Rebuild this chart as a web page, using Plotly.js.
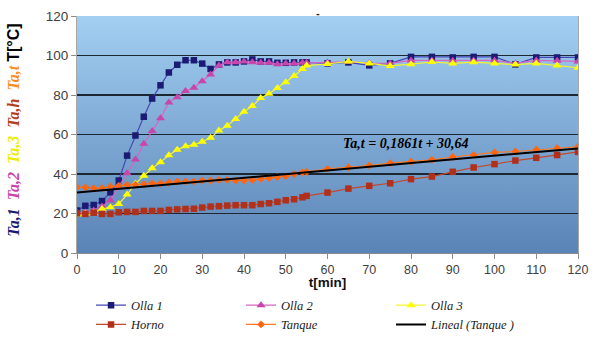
<!DOCTYPE html>
<html>
<head>
<meta charset="utf-8">
<script src="https://cdn.plot.ly/plotly-3.0.1.min.js"></script>
<style>
  html, body { margin: 0; padding: 0; background: #ffffff; }
  #chart { width: 605px; height: 350px; }
</style>
</head>
<body>
<div id="chart"></div>
<script>
// Sampling times (min)
const tiempo = [0,2,4,6,8,10,12,14,16,18,20,22,24,26,28,30,32,34,36,38,40,42,44,46,48,50,52,54,55,60,65,70,75,80,85,90,95,100,105,110,115,120];

// Temperatures (°C)
const olla1 = [21.5,23.9,24.3,26.3,30.7,36.7,49.3,59.5,69.0,78.2,84.9,91.4,95.3,97.6,97.6,95.9,93.2,95.5,96.5,96.5,97.0,98.0,97.0,97.0,96.3,96.3,96.5,96.5,96.5,96.0,96.5,95.0,96.0,99.3,99.3,99.0,99.3,99.3,95.5,99.0,99.0,99.0];
const olla2 = [20.5,20.5,21.5,23.5,26.7,33.6,40.4,47.3,55.3,61.8,68.2,76.2,78.9,82.0,83.7,87.0,90.4,95.0,96.6,96.6,97.0,96.6,96.3,96.3,95.6,95.9,95.9,96.3,96.3,96.5,96.8,96.2,96.0,97.5,97.5,97.3,97.5,97.5,96.0,97.5,97.3,97.0];
const olla3 = [19.5,20.0,20.5,22.3,23.2,24.8,29.6,35.2,39.1,42.9,46.0,49.5,52.3,54.1,54.8,56.3,58.3,62.0,64.4,67.9,71.5,74.4,78.5,80.6,83.5,86.4,89.6,93.2,94.9,95.7,97.0,96.0,94.7,95.6,96.7,96.0,96.6,96.0,95.4,96.0,95.0,93.8];
const horno = [20.1,19.8,20.4,19.8,19.8,20.6,20.8,20.8,21.3,21.3,21.3,21.8,22.1,22.3,22.4,23.0,23.5,23.7,24.0,24.2,24.2,24.2,24.8,25.2,25.9,26.7,27.2,28.2,28.9,30.6,32.6,34.0,35.3,37.4,38.7,41.1,43.3,45.0,46.8,48.2,49.6,51.2];
const tanque = [33.3,33.2,32.8,32.8,33.6,34.0,34.5,34.6,34.8,35.3,35.3,35.7,36.2,36.2,36.2,36.7,36.7,37.0,37.0,36.7,36.7,37.0,37.5,37.9,38.4,38.9,39.9,40.8,41.1,42.6,43.3,44.3,45.5,46.2,47.2,48.6,49.6,50.9,51.4,52.3,53.1,53.8];

// Linear fit of the tank temperature
const pendiente = 0.1861;
const ordenada = 30.64;
const tajuste = [0, 120];

const nombres = ['Olla 1', 'Olla 2', 'Olla 3', 'Horno', 'Tanque', 'Lineal (Tanque )'];
const ticksX = [0,10,20,30,40,50,60,70,80,90,100,110,120];
const ticksY = [0,20,40,60,80,100,120];
const lineasGuia = [20,40,60,80,100];

const serie = (name, y, lineColor, markerColor, symbol, size) => ({
  type: 'scatter', mode: 'lines+markers', name: name,
  x: tiempo, y: y,
  line: { color: lineColor, width: 1.2 },
  marker: { color: markerColor, symbol: symbol, size: size, line: { width: 0 } }
});

const traces = [
  serie(nombres[0], olla1, '#4646b4', '#1b1b74', 'square', 6.5),
  serie(nombres[1], olla2, '#d566c4', '#c845aa', 'triangle-up', 8),
  serie(nombres[2], olla3, '#f4f430', '#ffff00', 'triangle-up', 8),
  serie(nombres[3], horno, '#c0492e', '#b0301c', 'square', 6.5),
  serie(nombres[4], tanque, '#ff7a22', '#ff6410', 'diamond', 6),
  {
    type: 'scatter', mode: 'lines', name: nombres[5],
    x: tajuste, y: tajuste.map(t => pendiente * t + ordenada),
    line: { color: '#000000', width: 2 }
  }
];

// vertical gradient fill for the plotting area
const fondo = '<svg xmlns="http://www.w3.org/2000/svg" width="100" height="100" preserveAspectRatio="none">' +
  '<defs><linearGradient id="g" x1="0" y1="0" x2="0" y2="1">' +
  '<stop offset="0" stop-color="#a3cff2"/><stop offset="1" stop-color="#5a83b6"/>' +
  '</linearGradient></defs><rect width="100" height="100" fill="url(#g)"/></svg>';

const coma = v => String(v).replace('.', ',');
const ecuacion = '<b><i>Ta,t = ' + coma(pendiente) + 't + ' + coma(ordenada) + '</i></b>';

const serif = "'Liberation Serif', 'Times New Roman', serif";

const tituloY =
  '<b><i>' +
  '<span style="color:#1b1b74">Ta,1</span>  ' +
  '<span style="color:#c845aa">Ta,2</span>  ' +
  '<span style="color:#ecec00">Ta,3</span>  ' +
  '<span style="color:#b3401c">Ta,h</span>  ' +
  '<span style="color:#ff8c1e">Ta,t</span> ' +
  '<span style="color:#000000;font-family:\'Liberation Sans\', Arial;font-style:normal">T[°C]</span>' +
  '</i></b>';

const layout = {
  width: 605, height: 350,
  margin: { l: 77, r: 27, t: 16, b: 97 },
  paper_bgcolor: '#ffffff',
  plot_bgcolor: '#7fa9d6',
  font: { family: "'Liberation Sans', Arial, sans-serif", color: '#404040' },
  showlegend: true,
  images: [{
    source: 'data:image/svg+xml;charset=utf-8,' + encodeURIComponent(fondo),
    xref: 'paper', yref: 'paper', x: 0, y: 1, sizex: 1, sizey: 1,
    xanchor: 'left', yanchor: 'top', sizing: 'stretch', layer: 'below'
  }],
  xaxis: {
    range: [0, 120], tickvals: ticksX,
    ticks: 'outside', ticklen: 5, tickcolor: '#8c8c8c',
    showline: true, linecolor: '#8c8c8c', linewidth: 1,
    showgrid: false, zeroline: false,
    tickfont: { size: 12.5, color: '#404040' },
    title: { text: '<b>t[min]</b>', font: { size: 13.5, color: '#111111' }, standoff: 4 }
  },
  yaxis: {
    range: [0, 120], tickvals: ticksY,
    ticks: 'outside', ticklen: 5, tickcolor: '#8c8c8c',
    showline: true, linecolor: '#a8a8a8', linewidth: 1, mirror: true,
    showgrid: false, zeroline: false,
    tickfont: { size: 13.5, color: '#404040' }
  },
  // horizontal guide lines (no line on the top edge)
  yaxis2: {
    overlaying: 'y', side: 'left', range: [0, 120], tickvals: lineasGuia,
    showticklabels: false, ticks: '', showline: false, zeroline: false,
    showgrid: true, gridcolor: '#1d2732', gridwidth: 1.3
  },
  legend: {
    orientation: 'h', xref: 'paper', x: 0.028, xanchor: 'left',
    yref: 'container', y: 0.17, yanchor: 'top',
    entrywidth: 105, entrywidthmode: 'pixels', tracegroupgap: 0,
    font: { family: serif, size: 12.5, style: 'italic', color: '#1a1a1a' },
    bgcolor: 'rgba(0,0,0,0)', itemwidth: 30
  },
  annotations: [
    {
      xref: 'x', yref: 'y', x: 78.9, y: 55.3, showarrow: false,
      text: ecuacion,
      font: { family: serif, size: 14, color: '#000000' }
    },
    {
      xref: 'paper', yref: 'paper', x: -0.126, y: 0.52, xanchor: 'center', yanchor: 'middle',
      textangle: -90, showarrow: false, text: tituloY,
      font: { family: serif, size: 16, color: '#000000' }
    },
    {
      xref: 'paper', yref: 'paper', x: (318 - 77) / 501, y: 1.012, showarrow: false,
      yanchor: 'middle', text: '<b>-</b>', font: { size: 11, color: '#222222' }
    }
  ]
};

// invisible trace that carries the guide-line axis
traces.unshift({
  type: 'scatter', mode: 'lines', x: [0, 120], y: [0, 0], yaxis: 'y2',
  showlegend: false, hoverinfo: 'skip', line: { width: 0, color: 'rgba(0,0,0,0)' }
});

Plotly.newPlot('chart', traces, layout, { displayModeBar: false, staticPlot: true });
</script>
</body>
</html>
